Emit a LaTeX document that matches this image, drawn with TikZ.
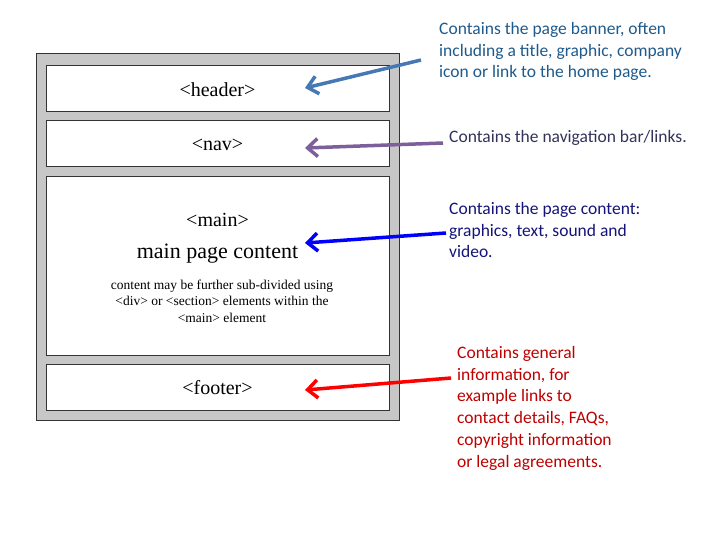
\documentclass[tikz,border=0pt]{standalone}
\usepackage{fontspec}
\setmainfont{Liberation Serif}
\newfontfamily\notefont{Carlito}
\usetikzlibrary{arrows.meta,positioning}
\definecolor{hdrblue}{RGB}{70,120,180}
\definecolor{hdrtext}{RGB}{30,90,140}
\definecolor{navpurple}{RGB}{125,95,155}
\definecolor{navtext}{RGB}{50,50,90}
\definecolor{maintext}{RGB}{20,20,120}
\definecolor{foottext}{RGB}{190,0,0}
\begin{document}
\begin{tikzpicture}[x=1pt,y=-1pt,
  part/.style={draw=black!80, line width=1pt, fill=white, minimum width=343pt, inner sep=0pt},
  tag/.style={font=\fontsize{20}{22}\selectfont},
  note/.style={font=\notefont\fontsize{17.5}{21.8}\selectfont, align=left, anchor=north west, inner sep=0pt},
  arr/.style={line width=3.5pt, -{Straight Barb[length=10pt,width=18pt]}},
]
\useasboundingbox (0,0) rectangle (720,540);
\node (page) [draw=black!80, line width=1pt, fill=black!22, minimum width=363pt, minimum height=366pt, inner sep=0pt] at (217.5,237) {};

\node (header) [part, minimum height=46pt] at (217.5,89) {};
\node (nav) [part, minimum height=46pt] at (217.5,144) {};
\node (main) [part, minimum height=178pt] at (217.5,266) {};
\node (footer) [part, minimum height=46pt] at (217.5,387) {};

\node [tag] at (217.5,90) {<header>};
\node [tag] at (217.5,145) {<nav>};
\node [tag] at (217.5,220) {<main>};
\node [font=\fontsize{22}{24}\selectfont] at (217.5,254) {main page content};
\node [align=center, font=\fontsize{13.5}{16.5}\selectfont] at (222,301) {content may be further sub-divided using\\ <div> or <section> elements within the\\ <main> element};
\node [tag] at (217.5,388) {<footer>};

% notes on the right
\node (hdrnote) [note, text=hdrtext] at (439,22) {Contains the page banner, often\\ including a title, graphic, company\\ icon or link to the home page.};
\node (navnote) [note, text=navtext] at (449,130) {Contains the navigation bar/links.};
\node (mainnote) [note, text=maintext] at (449,202) {Contains the page content:\\ graphics, text, sound and\\ video.};
\node (footnote) [note, text=foottext] at (457,346) {Contains general\\ information, for\\ example links to\\ contact details, FAQs,\\ copyright information\\ or legal agreements.};

\coordinate (hdrtip) at (305,88);
\coordinate (navtip) at (305,148);
\coordinate (maintip) at (305,243);
\coordinate (foottip) at (305,390);
\draw[arr, hdrblue] (421,60) -- (hdrtip);
\draw[arr, navpurple] (443,143) -- (navtip);
\draw[arr, blue] (446,233) -- (maintip);
\draw[arr, red] (451,378) -- (foottip);
\end{tikzpicture}
\end{document}
